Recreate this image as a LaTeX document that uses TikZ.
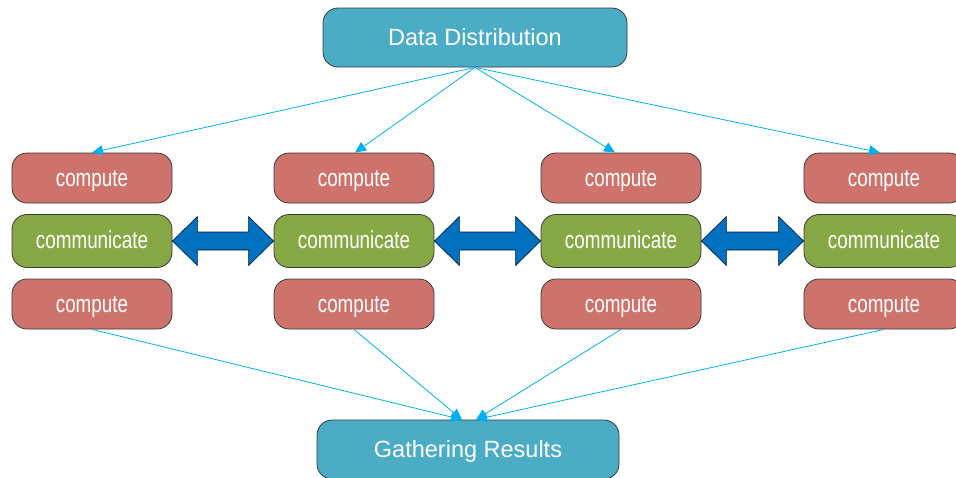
\documentclass[tikz,border=0pt]{standalone}
\usepackage{fontspec}
\setmainfont{Liberation Sans}
\newfontfamily\narrowsans[FakeStretch=0.77]{Liberation Sans}
\usetikzlibrary{arrows.meta,calc}
\definecolor{headfill}{HTML}{4BACC6}
\definecolor{compfill}{HTML}{CD736B}
\definecolor{commfill}{HTML}{86A845}
\definecolor{linkblue}{HTML}{00B0F0}
\definecolor{fatblue}{HTML}{0070C0}
\definecolor{edge}{HTML}{3A3A3A}
\tikzset{
  box/.style={draw=edge, line width=0.8pt, rounded corners=15pt, text=white,
              inner sep=0pt, anchor=center, text depth=0pt},
  headbox/.style={box, fill=headfill, minimum width=304pt, minimum height=59pt,
                  text height=15pt, font=\fontsize{23.5}{28}\selectfont},
  compbox/.style={box, fill=compfill, minimum width=160pt, minimum height=50pt,
                  text height=16pt, font=\narrowsans\fontsize{24.5}{28}\selectfont},
  commbox/.style={box, fill=commfill, minimum width=160pt, minimum height=53pt,
                  text height=15pt, font=\narrowsans\fontsize{24.5}{28}\selectfont},
  link/.style={draw=linkblue, line width=0.8pt,
               -{Triangle[length=11pt,width=10pt]}},
  fatarrow/.style={draw=black!80!fatblue, line width=0.6pt, fill=fatblue,
                   line join=miter}
}
\begin{document}
\begin{tikzpicture}[x=1pt,y=-1pt]
\useasboundingbox (0,0) rectangle (956,477);
\clip (0,0) rectangle (956,477);

% top and bottom stages
\node[headbox] (dd) at (475,37.5) {Data Distribution};
\node[headbox, minimum width=302pt] (gr) at (468,449.5) {Gathering Results};

% four worker columns
\foreach \i/\x in {1/92, 2/354, 3/621, 4/884} {
  \node[compbox] (t\i) at (\x,178) {compute};
  \node[commbox] (m\i) at (\x,241) {communicate};
  \node[compbox] (b\i) at (\x,304) {compute};
}

% exchange arrows between neighbouring columns
\foreach \a/\b in {m1/m2, m2/m3, m3/m4} {
  \draw[fatarrow] (\a.east) -- ($(\a.east)+(25,-24.5)$) -- ($(\a.east)+(25,-9)$)
    -- ($(\b.west)+(-25,-9)$) -- ($(\b.west)+(-25,-24.5)$) -- (\b.west)
    -- ($(\b.west)+(-25,24.5)$) -- ($(\b.west)+(-25,9)$)
    -- ($(\a.east)+(25,9)$) -- ($(\a.east)+(25,24.5)$) -- cycle;
}

% distribution links
\draw[link] (dd.south) -- (t1.north);
\draw[link] (dd.south) -- ($(t2.north)+(1,0)$);
\draw[link] (dd.south) -- ($(t3.north)+(-6,0)$);
\draw[link] (dd.south) -- ($(t4.north)+(-4,0)$);

% gathering links
\draw[link] (b1.south) -- ($(gr.north)+(-6,0)$);
\draw[link] (b2.south) -- ($(gr.north)+(-6,0)$);
\draw[link] (b3.south) -- ($(gr.north)+(8,0)$);
\draw[link] (b4.south) -- ($(gr.north)+(8,0)$);
\end{tikzpicture}
\end{document}
